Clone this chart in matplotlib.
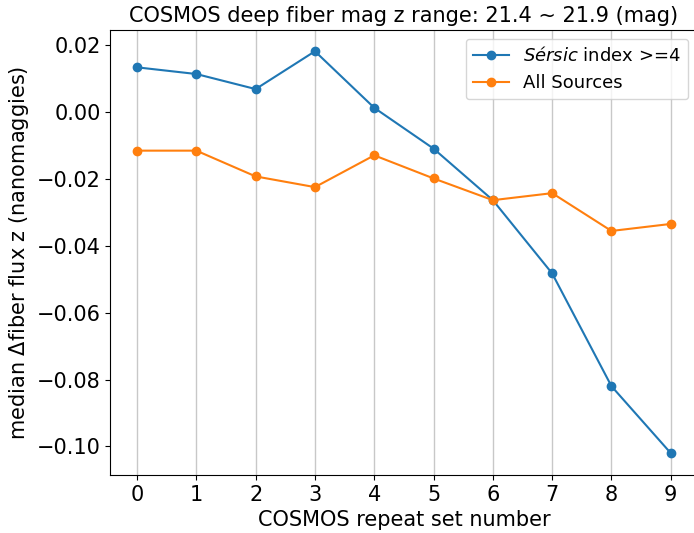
import matplotlib
matplotlib.use('Agg')
import matplotlib.pyplot as plt

# repeat set numbers
repeat_sets = [0, 1, 2, 3, 4, 5, 6, 7, 8, 9]

# median delta fiber flux (nanomaggies)
sersic_ge4 = [0.0133, 0.0113, 0.0068, 0.0181, 0.0012, -0.0110, -0.0264, -0.0483, -0.0820, -0.1020]
all_sources = [-0.0116, -0.0116, -0.0193, -0.0225, -0.0130, -0.0199, -0.0264, -0.0243, -0.0356, -0.0335]

fig = plt.figure(figsize=(6.94, 5.33), dpi=100)
# axes runs slightly past the right edge of the image, like the original
ax = fig.add_axes([0.159, 0.109, 0.846, 0.835])

ax.plot(repeat_sets, sersic_ge4, marker='o', color='#1f77b4', linewidth=1.5, markersize=6,
        label=r'$\it{Sérsic}$ index >=4')
ax.plot(repeat_sets, all_sources, marker='o', color='#ff7f0e', linewidth=1.5, markersize=6,
        label='All Sources')

ax.set_xticks(repeat_sets)
ax.grid(axis='x', color='#c8c8c8', linewidth=1.0)
ax.tick_params(labelsize=15)
ax.set_xlabel('COSMOS repeat set number', fontsize=15)
ax.set_ylabel(r'median $\Delta$fiber flux z (nanomaggies)', fontsize=15)
ax.set_title('COSMOS deep fiber mag z range: 21.4 ~ 21.9 (mag)', fontsize=15)
ax.set_ylim(-0.1085, 0.0245)
ax.legend(loc='upper right', fontsize=13)

fig.savefig('out.png', dpi=100)
